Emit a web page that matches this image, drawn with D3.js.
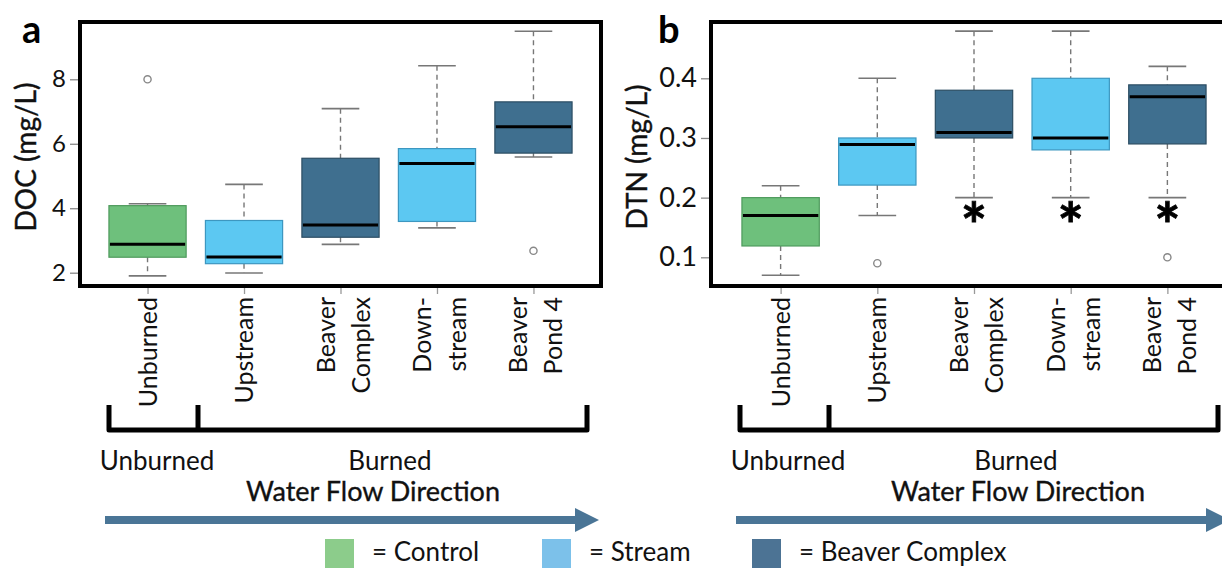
<!DOCTYPE html>
<html><head><meta charset="utf-8">
<script src="https://cdn.jsdelivr.net/npm/d3@7"></script>
<style>
html,body{margin:0;padding:0;background:#fff;}
svg{display:block;font-family:Lato,"Open Sans",sans-serif;}
</style></head>
<body>
<svg id="chart" width="1222" height="569"></svg>
<script>
// ---------- data ----------
const categories = ["Unburned","Upstream","Beaver Complex","Downstream","Beaver Pond 4"];
const tickLabels = [["Unburned"],["Upstream"],["Beaver","Complex"],["Down-","stream"],["Beaver","Pond 4"]];
const siteGroups = ["Control","Stream","Beaver Complex","Stream","Beaver Complex"];

const docTicks = [2,4,6,8];
const docWhiskerLow  = [1.90, 1.99, 2.88, 3.39, 5.59];
const docQ1          = [2.48, 2.28, 3.10, 3.59, 5.71];
const docMedian      = [2.88, 2.49, 3.48, 5.39, 6.53];
const docQ3          = [4.08, 3.62, 5.55, 5.85, 7.30];
const docWhiskerHigh = [4.14, 4.74, 7.09, 8.42, 9.49];
const docOutliers    = [[8.0], [], [], [], [2.68]];

const dtnTicks = [0.1,0.2,0.3,0.4];
const dtnTickLabels = ["0.1","0.2","0.3","0.4"];
const dtnWhiskerLow  = [0.070, 0.170, 0.200, 0.200, 0.200];
const dtnQ1          = [0.119, 0.221, 0.300, 0.280, 0.290];
const dtnMedian      = [0.170, 0.289, 0.309, 0.300, 0.369];
const dtnQ3          = [0.200, 0.300, 0.380, 0.400, 0.389];
const dtnWhiskerHigh = [0.220, 0.400, 0.479, 0.479, 0.420];
const dtnOutliers    = [[], [0.09], [], [], [0.10]];
const dtnSignificant = [false, false, true, true, true];

const legendLabels = ["Control","Stream","Beaver Complex"];
const bracketLabels = ["Unburned","Burned"];
const flowLabel = "Water Flow Direction";

// ---------- styles ----------
const fillColor  = d3.scaleOrdinal().domain(legendLabels).range(["#6ec07c","#5cc8f2","#3f6f8f"]);
const lineColor  = d3.scaleOrdinal().domain(legendLabels).range(["#4e9a5c","#3d97c0","#2c4d63"]);
const legendColor= d3.scaleOrdinal().domain(legendLabels).range(["#8ccc8b","#7cc1ea","#4c7394"]);
const arrowColor = "#4a7596";

const svg = d3.select("#chart");
svg.append("rect").attr("width",1222).attr("height",569).attr("fill","#fff");
const defs = svg.append("defs");
defs.append("clipPath").attr("id","clipAll").append("rect").attr("width",1222).attr("height",569);

function panel(opt){
  const g = svg.append("g").attr("clip-path","url(#clipAll)");
  const x = d3.scalePoint().domain(categories).range([opt.left, opt.right]).padding(opt.pad);
  const y = d3.scaleLinear().domain(opt.yDomain).range(opt.yRange);
  const step = x.step();
  const boxW = step*0.8, capW = step*0.39;
  const data = categories.map((c,i)=>({c, i, grp:siteGroups[i], lo:opt.lo[i], q1:opt.q1[i], med:opt.med[i], q3:opt.q3[i], hi:opt.hi[i], out:opt.out[i]}));

  // y axis ticks (left of frame)
  const yAxis = d3.axisLeft(y).tickValues(opt.ticks).tickSize(10).tickPadding(4)
      .tickFormat((d,i)=>opt.tickFmt[i]);
  const ya = g.append("g").attr("transform",`translate(${opt.left},0)`).call(yAxis);
  ya.select(".domain").remove();
  ya.selectAll("line").attr("stroke","#888").attr("stroke-width",1.3);
  ya.selectAll("text").attr("fill","#111").style("font-size",opt.tickFont+"px").style("font-family","Lato");

  // x axis ticks (below frame)
  const xAxis = d3.axisBottom(x).tickSize(8).tickFormat("");
  const xa = g.append("g").attr("transform",`translate(0,${opt.bottom})`).call(xAxis);
  xa.select(".domain").remove();
  xa.selectAll("line").attr("stroke","#999").attr("stroke-width",1.3);

  // x tick labels (rotated)
  const lab = g.append("g").selectAll("g.lab").data(data).join("g").attr("class","lab");
  lab.each(function(d){
    const lines = tickLabels[d.i];
    const offs = lines.length===1 ? [9] : [-6, 29];
    lines.forEach((t,k)=>{
      d3.select(this).append("text")
        .attr("transform",`translate(${x(d.c)+offs[k]},297) rotate(-90)`)
        .attr("text-anchor","end")
        .style("font-size","25px").attr("fill","#111").text(t);
    });
  });

  // whiskers
  const bx = g.append("g").selectAll("g.box").data(data).join("g").attr("class","box");
  bx.append("line").attr("x1",d=>x(d.c)).attr("x2",d=>x(d.c))
    .attr("y1",d=>y(d.hi)).attr("y2",d=>y(d.q3))
    .attr("stroke","#777").attr("stroke-width",1.4).attr("stroke-dasharray","5,4");
  bx.append("line").attr("x1",d=>x(d.c)).attr("x2",d=>x(d.c))
    .attr("y1",d=>y(d.q1)).attr("y2",d=>y(d.lo))
    .attr("stroke","#777").attr("stroke-width",1.4).attr("stroke-dasharray","5,4");
  ["hi","lo"].forEach(k=>{
    bx.append("line").attr("x1",d=>x(d.c)-capW/2).attr("x2",d=>x(d.c)+capW/2)
      .attr("y1",d=>y(d[k])).attr("y2",d=>y(d[k]))
      .attr("stroke","#777").attr("stroke-width",1.6);
  });
  bx.append("rect").attr("x",d=>x(d.c)-boxW/2).attr("width",boxW)
    .attr("y",d=>y(d.q3)).attr("height",d=>y(d.q1)-y(d.q3))
    .attr("fill",d=>fillColor(d.grp)).attr("stroke",d=>lineColor(d.grp)).attr("stroke-width",1.2);
  bx.append("line").attr("x1",d=>x(d.c)-boxW/2+1).attr("x2",d=>x(d.c)+boxW/2-1)
    .attr("y1",d=>y(d.med)).attr("y2",d=>y(d.med))
    .attr("stroke","#000").attr("stroke-width",3);
  bx.selectAll("circle").data(d=>d.out.map(v=>({c:d.c,v}))).join("circle")
    .attr("cx",d=>x(d.c)).attr("cy",d=>y(d.v)).attr("r",3.6)
    .attr("fill","#fff").attr("stroke","#888").attr("stroke-width",1.4);

  if(opt.sig){
    g.append("g").selectAll("text").data(data.filter(d=>opt.sig[d.i])).join("text")
      .attr("x",d=>x(d.c)).attr("y",d=>y(d.lo)+50)
      .attr("text-anchor","middle").style("font-size","62px").style("font-weight","700")
      .attr("fill","#000").attr("stroke","#000").attr("stroke-width",0.8).text("*");
  }

  // frame
  g.append("rect").attr("x",opt.left).attr("y",opt.top)
    .attr("width",opt.right-opt.left).attr("height",opt.bottom-opt.top)
    .attr("fill","none").attr("stroke","#000").attr("stroke-width",4);

  // panel letter
  g.append("text").attr("x",opt.letterX).attr("y",43).style("font-size","38px").style("font-weight","700")
    .attr("fill","#000").text(opt.letter);
  // y title
  g.append("text").attr("transform",`translate(${opt.titleX},157) rotate(-90)`)
    .attr("text-anchor","middle").style("font-size","28px")
    .attr("fill","#111").attr("stroke","#111").attr("stroke-width",0.4).text(opt.title);

  // brackets
  const bxL = opt.left+29, bxM = opt.left+118, bxR = opt.left+507;
  g.append("path")
    .attr("d",`M${bxL},405 L${bxL},430 L${bxM},430 L${bxM},405 M${bxM},430 L${bxR},430 L${bxR},405`)
    .attr("fill","none").attr("stroke","#000").attr("stroke-width",5).attr("stroke-linejoin","round");
  g.append("text").attr("x",opt.left+77).attr("y",470).attr("text-anchor","middle")
    .style("font-size","26px").attr("fill","#111").text(bracketLabels[0]);
  g.append("text").attr("x",opt.burnedX).attr("y",470).attr("text-anchor","middle")
    .style("font-size","26px").attr("fill","#111").text(bracketLabels[1]);
  g.append("text").attr("x",opt.flowX).attr("y",501).attr("text-anchor","middle")
    .style("font-size","27px").attr("fill","#111").attr("stroke","#111").attr("stroke-width",0.35).text(flowLabel);

  // arrow
  const ax0 = opt.left+25, ax1 = opt.left+519;
  g.append("path")
    .attr("d",`M${ax0},516 L${ax1-24},516 L${ax1-24},508 L${ax1},520 L${ax1-24},532 L${ax1-24},524 L${ax0},524 Z`)
    .attr("fill",arrowColor);
}

panel({left:80,right:601,top:22,bottom:286,pad:0.7,
  yDomain:[2,8], yRange:[272.7,79.3], ticks:docTicks, tickFmt:docTicks.map(String), tickFont:24,
  lo:docWhiskerLow,q1:docQ1,med:docMedian,q3:docQ3,hi:docWhiskerHigh,out:docOutliers,
  letter:"a", letterX:22, title:"DOC (mg/L)", titleX:36, burnedX:390, flowX:373});

panel({left:711,right:1237,top:22,bottom:286,pad:0.72,
  yDomain:[0.1,0.4], yRange:[257.3,78.3], ticks:dtnTicks, tickFmt:dtnTickLabels, tickFont:27,
  lo:dtnWhiskerLow,q1:dtnQ1,med:dtnMedian,q3:dtnQ3,hi:dtnWhiskerHigh,out:dtnOutliers,sig:dtnSignificant,
  letter:"b", letterX:658, title:"DTN (mg/L)", titleX:647, burnedX:1016, flowX:1018});

// legend
const legX = [325, 542, 752];
const lg = svg.append("g").selectAll("g").data(legendLabels).join("g")
  .attr("transform",(d,i)=>`translate(${legX[i]},539)`);
lg.append("rect").attr("width",29).attr("height",29).attr("fill",d=>legendColor(d));
lg.append("text").attr("x",47).attr("y",22).style("font-size","26px").attr("fill","#111").text(d=>"= "+d);
</script>
</body></html>
